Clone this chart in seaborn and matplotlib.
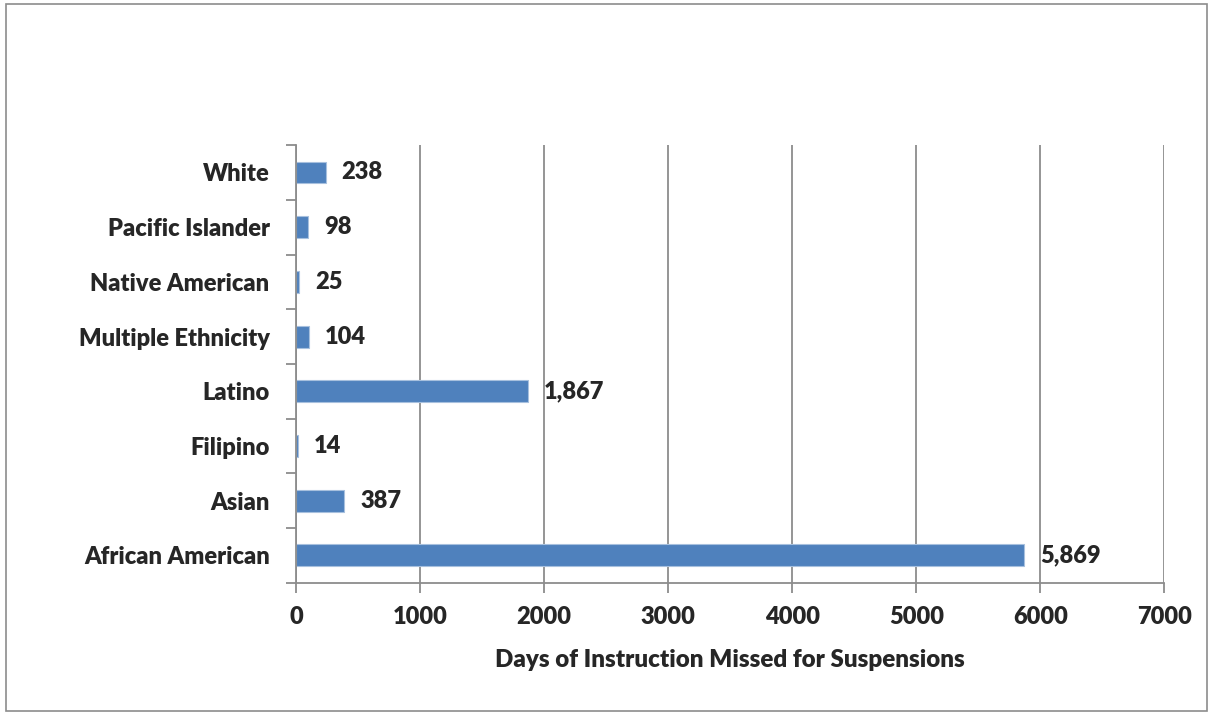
"""Days of instruction missed for suspensions, by ethnicity."""
import matplotlib.pyplot as plt
import numpy as np
import pandas as pd
import seaborn as sns
from matplotlib.patches import Rectangle
from matplotlib.ticker import FixedLocator

groups = ["White", "Pacific Islander", "Native American", "Multiple Ethnicity",
          "Latino", "Filipino", "Asian", "African American"]
days = [238, 98, 25, 104, 1867, 14, 387, 5869]
x_ticks = [0, 1000, 2000, 3000, 4000, 5000, 6000, 7000]

BAR_COLOR = "#4f81bd"
GRID_COLOR = "#8c8c8c"
FS = 17
FW = "heavy"

sns.set_theme(style="white")
plt.rcParams["font.family"] = ["Lato", "DejaVu Sans"]
plt.rcParams["font.weight"] = "bold"

df = pd.DataFrame({"group": groups, "days": days})

fig = plt.figure(figsize=(12.13, 7.15), dpi=100)
ax = fig.add_axes([0.244, 0.185, 0.716, 0.612])

sns.barplot(data=df, x="days", y="group", orient="h", color=BAR_COLOR,
            saturation=1, width=0.4, edgecolor="#a7c0de", linewidth=0.8, ax=ax)

ax.set_xlim(0, 7000)
ax.set_xticks(x_ticks)
ax.set_xticklabels([str(t) for t in x_ticks], fontsize=FS, fontweight=FW)
ax.set_ylim(len(groups) - 0.5, -0.5)
ax.set_yticks(range(len(groups)))
ax.set_yticklabels(groups, fontsize=FS, fontweight=FW)
ax.yaxis.set_minor_locator(FixedLocator(np.arange(-0.5, len(groups), 1)))
ax.tick_params(axis="y", which="major", length=0, pad=19)
ax.tick_params(axis="y", which="minor", length=7, width=1.3, color=GRID_COLOR, left=True)
ax.tick_params(axis="x", which="major", length=7, width=1.3, color=GRID_COLOR,
               bottom=True, pad=10)

ax.grid(axis="x", color=GRID_COLOR, linewidth=1.3)
ax.set_axisbelow(True)
for side in ["top", "right"]:
    ax.spines[side].set_visible(False)
for side in ["left", "bottom"]:
    ax.spines[side].set_color(GRID_COLOR)
    ax.spines[side].set_linewidth(1.3)

ax.set_ylabel("")
ax.set_xlabel("Days of Instruction Missed for Suspensions", fontsize=FS + 0.4,
              fontweight=FW, labelpad=15)

for i, v in enumerate(days):
    ax.annotate(f"{v:,}", xy=(v, i), xytext=(16, 0), textcoords="offset pixels",
                va="center", ha="left", fontsize=FS, fontweight=FW)

fig.patches.append(Rectangle((0.005, 0.006), 0.99, 0.988, transform=fig.transFigure,
                             fill=False, edgecolor=GRID_COLOR, linewidth=1.2))

fig.savefig("out.png", dpi=100, facecolor="white")
